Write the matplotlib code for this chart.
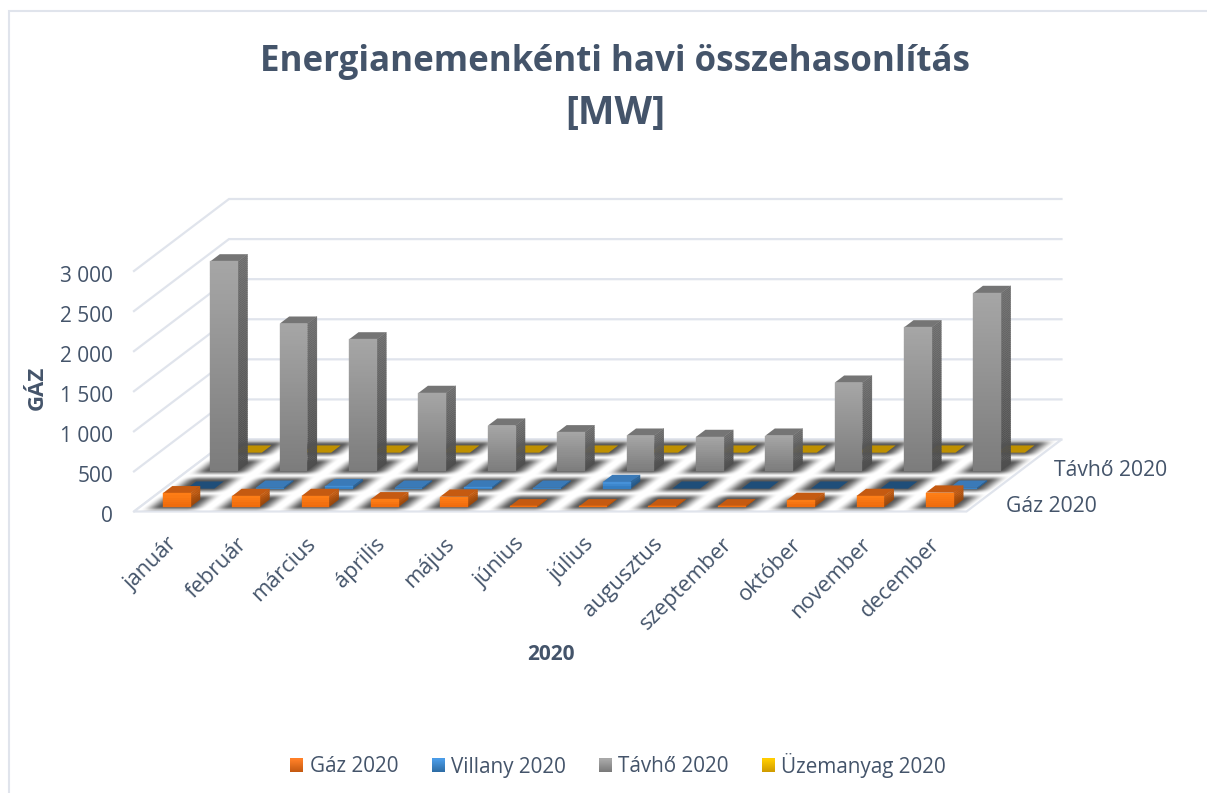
import numpy as np
import matplotlib
matplotlib.use("Agg")
import matplotlib.pyplot as plt
from matplotlib.collections import PolyCollection
from matplotlib.lines import Line2D
from matplotlib.patches import Polygon, Rectangle
from matplotlib.transforms import Affine2D, ScaledTranslation
from matplotlib.legend_handler import HandlerBase
from matplotlib.colors import to_rgb

months = ["január", "február", "március", "április", "május", "június", "július",
          "augusztus", "szeptember", "október", "november", "december"]
gaz = [167, 133, 133, 92, 125, 4, 4, 4, 4, 84, 133, 175]
villany = [0, 12, 30, 12, 15, 12, 82, 0, 0, 0, 0, 12]
tavho = [2610, 1833, 1637, 969, 561, 478, 436, 420, 436, 1097, 1787, 2216]
uzemanyag = [0] * 12
series_names = ["Gáz 2020", "Villany 2020", "Távhő 2020", "Üzemanyag 2020"]
series_values = [gaz, villany, tavho, uzemanyag]
value_ticks = [0, 500, 1000, 1500, 2000, 2500, 3000]
title_line1 = "Energianemenkénti havi összehasonlítás"
title_line2 = "[MW]"

W, H = 1207, 793
TXT = "#44546a"
GRID = "#e0e4ec"
FONT = "Open Sans"
plt.rcParams["font.family"] = [FONT, "DejaVu Sans"]

# colours: front top/bottom, side top/bottom, top face, top face for empty bars
styles = [
    dict(f=("#ff7f17", "#ee6a0c"), s=("#c65c10", "#9a4609"), t="#c55a11", z="#c55a11"),
    dict(f=("#4a96de", "#2f78bb"), s=("#2e6aa3", "#245684"), t="#3a7ab8", z="#1f4e79"),
    dict(f=("#a6a6a6", "#7c7c7c"), s=("#6c6c6c", "#4e4e4e"), t="#757575", z="#757575"),
    dict(f=("#ffc000", "#bf9000"), s=("#a07800", "#806000"), t="#bf9000", z="#bf9000"),
]
legend_grad = [("#ff7f27", "#c55a11"), ("#4a9be6", "#2e6da6"),
               ("#a8a8a8", "#7a7a7a"), ("#ffcc00", "#d09c00")]

fig = plt.figure(figsize=(W / 100, H / 100), dpi=100, facecolor="white")
# axes box = the front plane: 12 categories wide, 0-3000 tall
L, R, B, T = 134, 966.5, 511.5, 271
ax = fig.add_axes([L / W, 1 - B / H, (R - L) / W, (B - T) / H])
ax.set_xlim(0, 12)
ax.set_ylim(0, 3000)
ax.patch.set_visible(False)
for sp in ax.spines.values():
    sp.set_visible(False)

# oblique projection: one series step of depth shifts x and y
SX, SY = 23.75 / ((R - L) / 12), 18.0 / ((B - T) / 3000)
N = len(series_values)
BW, BD = 0.40, 0.40
CX0, SD0 = 0.3225, 0.27  # bar footprint start inside a cell


def P(c, s, v=0.0):
    return (c + s * SX, v + s * SY)


shear = Affine2D.from_values(1, 0, SX, SY, 0, 0)

# walls
for v in value_ticks:
    ax.plot(*zip(P(0, 0, v), P(0, N, v), P(12, N, v)), color=GRID, lw=1.6, clip_on=False, zorder=1,
            solid_joinstyle="miter")
floor = Polygon([P(0, 0), P(12, 0), P(12, N), P(0, N)], closed=True, fc="white", ec=GRID, lw=1.6,
                clip_on=False, zorder=2)
ax.add_patch(floor)

# soft floor shadow around each bar's footprint
nu, ns = 12 * 60, N * 40
uu = (np.arange(nu) + 0.5) / nu * 12
ss = (np.arange(ns) + 0.5) / ns * N


def soft(d, w):
    t = np.clip(1 - d / w, 0, 1)
    return t * t * (3 - 2 * t)


du = np.clip(np.abs((uu % 1) - (CX0 + BW / 2)) - BW / 2, 0, None)
ds = np.clip(np.abs((ss % 1) - (SD0 + BD / 2)) - BD / 2, 0, None)
shadow = np.outer(soft(ds, 0.34), soft(du, 0.27))
rgba = np.zeros((ns, nu, 4))
rgba[..., 3] = shadow * 0.66
im = ax.imshow(rgba, extent=(0, 12, 0, N), origin="lower", interpolation="bilinear",
               aspect="auto", zorder=3)
im.set_transform(shear + ax.transData)
im.set_clip_box(fig.bbox)
ax.set_xlim(0, 12)
ax.set_ylim(0, 3000)


def grad_face(a0, a1, v, c0, c1, z):
    """Upright face between footprint points a0 and a1, up to value v; c0 at the top."""
    n = max(2, int(v * (B - T) / 3000 / 2))
    vs = np.linspace(0, v, n + 1)
    polys = [[P(*a0, vs[i]), P(*a1, vs[i]), P(*a1, vs[i + 1]), P(*a0, vs[i + 1])] for i in range(n)]
    a, b = np.array(to_rgb(c0)), np.array(to_rgb(c1))
    cols = [a * (i + 0.5) / n + b * (1 - (i + 0.5) / n) for i in range(n)]
    ax.add_collection(PolyCollection(polys, facecolors=cols, edgecolors=cols, linewidths=0.25,
                                     clip_on=False, zorder=z), autolim=False)


# bars, back row first
z = 4.0
for si in range(N - 1, -1, -1):
    st = styles[si]
    for ci, v in enumerate(series_values[si]):
        c0 = ci + CX0
        c1 = c0 + BW
        s0 = si + SD0
        s1 = s0 + BD
        z += 0.01
        top = [P(c0, s0, v), P(c1, s0, v), P(c1, s1, v), P(c0, s1, v)]
        ax.add_patch(Polygon(top, closed=True, fc=st["t"] if v > 0 else st["z"], ec="none",
                             clip_on=False, zorder=z))
        if v > 0:
            grad_face((c1, s0), (c1, s1), v, *st["s"], z)
            grad_face((c0, s0), (c1, s0), v, *st["f"], z)

# axes ticks
ax.set_yticks(value_ticks)
ax.set_yticklabels([f"{v:,}".replace(",", " ") for v in value_ticks], fontsize=15, color=TXT)
ax.set_xticks(np.arange(12) + 0.5)
ax.set_xticklabels(months, fontsize=15.7, color=TXT, rotation=45, ha="right", va="top",
                   rotation_mode="anchor")
ax.tick_params(length=0, axis="y", pad=15)
ax.tick_params(length=0, axis="x", pad=16)
for lab in ax.get_yticklabels():
    lab.set_transform(lab.get_transform() + ScaledTranslation(0, -2.5 / 100, fig.dpi_scale_trans))
for lab in ax.get_xticklabels():
    lab.set_transform(lab.get_transform() + ScaledTranslation(-2 / 100, 0, fig.dpi_scale_trans))
ax.set_ylabel("GÁZ", fontsize=16, fontweight="bold", color=TXT)
ax.yaxis.set_label_coords((37 - L) / (R - L), (B - 388) / (B - T))
ax.yaxis.label.set_va("center")
ax.set_xlabel("2020", fontsize=15, fontweight="bold", color=TXT)
ax.xaxis.set_label_coords((551 - L) / (R - L), (B - 654) / (B - T))
ax.xaxis.label.set_va("center")

# depth axis labels (every second series)
for si in (0, 2):
    x, y = P(12, si + 0.5)
    ax.text(x + 0.405, y - 46, series_names[si], fontsize=15.2, color=TXT, ha="left", va="center",
            clip_on=False)

fig.text(614.5 / W, 1 - 62 / H, title_line1, fontsize=25.15, fontweight="bold", color=TXT,
         ha="center", va="center")
fig.text(615 / W, 1 - 113 / H, title_line2, fontsize=28, fontweight="bold", color=TXT,
         ha="center", va="center")

# chart frame: only top and left edges are inside the picture
fig.add_artist(Line2D([9 / W, 9 / W, 1], [0, 1 - 11 / H, 1 - 11 / H], transform=fig.transFigure,
                      color=GRID, lw=1.5, solid_joinstyle="miter"))


class GradHandle(HandlerBase):
    def create_artists(self, legend, orig, xd, yd, w, h, fs, trans):
        c0, c1 = map(lambda c: np.array(to_rgb(c)), orig.grad)
        out = []
        n = 13
        side = 13 * 0.72
        for i in range(n):
            t = i / (n - 1)
            col = c1 * (1 - t) + c0 * t
            out.append(Rectangle((xd * -1 + w - side, -yd + h / 2 - side / 2 + side * i / n), side, side / n + .3,
                                 fc=col, ec="none", transform=trans))
        return out


handles = []
for g in legend_grad:
    p = Rectangle((0, 0), 1, 1)
    p.grad = g
    handles.append(p)
leg = fig.legend(handles, series_names, handler_map={Rectangle: GradHandle()}, ncol=4, frameon=False,
                 loc="center", bbox_to_anchor=(617 / W, 1 - 765 / H), fontsize=14.9, labelcolor=TXT,
                 columnspacing=1.49, handletextpad=0.3, handlelength=0.75)

fig.savefig("out.png", dpi=100)
